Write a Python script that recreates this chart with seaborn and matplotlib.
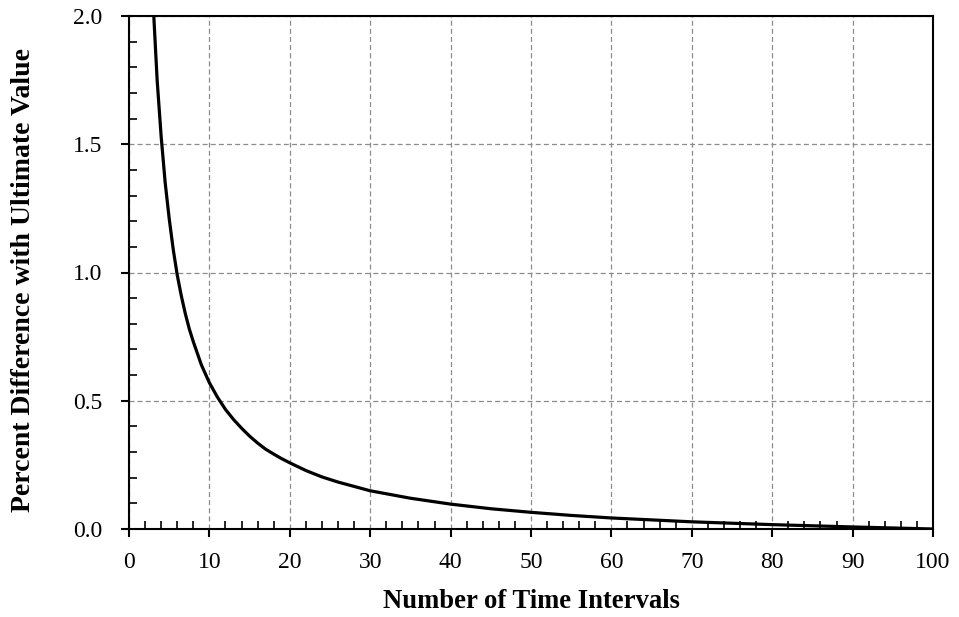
import numpy as np
import pandas as pd
import matplotlib
matplotlib.use("Agg")
import matplotlib.pyplot as plt
import seaborn as sns
from matplotlib.ticker import MultipleLocator, FormatStrFormatter

# Data
intervals = [3, 3.5, 4, 4.5, 5, 5.5, 6, 6.5, 7, 7.5, 8, 9, 10, 11, 12, 13, 14, 15, 16, 17,
             18, 19, 20, 22, 24, 26, 28, 30, 35, 40, 45, 50, 55, 60, 70, 80, 90, 100]
pct_diff = [2.05, 1.75, 1.53, 1.35, 1.21, 1.09, 0.99, 0.91, 0.84, 0.78, 0.73, 0.64,
            0.57, 0.514, 0.466, 0.427, 0.393, 0.362, 0.335, 0.311, 0.292, 0.274, 0.258,
            0.228, 0.203, 0.183, 0.166, 0.149, 0.12, 0.097, 0.079, 0.065, 0.053, 0.043,
            0.028, 0.017, 0.008, 0.0]
x_label = "Number of Time Intervals"
y_label = "Percent Difference with Ultimate Value"

df = pd.DataFrame({"n": intervals, "pct": pct_diff})

sns.set_theme(style="white")
plt.rcParams["font.family"] = ["Liberation Serif", "DejaVu Serif"]
plt.rcParams["text.color"] = "black"
plt.rcParams["axes.labelcolor"] = "black"
plt.rcParams["xtick.color"] = "black"
plt.rcParams["ytick.color"] = "black"

fig = plt.figure(figsize=(9.59, 6.17), dpi=100)
ax = fig.add_axes([129 / 959, 1 - 529 / 617, (933 - 129) / 959, (529 - 16) / 617])

ax.grid(True, which="major", color="#8c8c8c", linestyle=(0, (4, 2.5)), linewidth=0.9)
ax.set_axisbelow(True)

sns.lineplot(data=df, x="n", y="pct", ax=ax, color="black", linewidth=2.3,
             clip_on=True, zorder=3)

ax.set_xlim(0, 100)
ax.set_ylim(0, 2.0)
ax.xaxis.set_major_locator(MultipleLocator(10))
ax.xaxis.set_minor_locator(MultipleLocator(2))
ax.yaxis.set_major_locator(MultipleLocator(0.5))
ax.yaxis.set_minor_locator(MultipleLocator(0.1))
ax.yaxis.set_major_formatter(FormatStrFormatter("%.1f"))

for s in ax.spines.values():
    s.set_color("black")
    s.set_linewidth(1.5)
    s.set_visible(True)

ax.tick_params(axis="both", which="major", direction="out", length=6, width=1.5,
               colors="black", labelcolor="black", labelsize=17)
ax.tick_params(axis="x", which="major", pad=10.5)
ax.tick_params(axis="y", which="major", pad=13.5)
ax.tick_params(axis="both", which="minor", direction="in", length=6, width=1.2,
               colors="black")
ax.tick_params(top=False, right=False, which="both")
ax.tick_params(bottom=True, left=True, which="both")

ax.set_xlabel(x_label, fontsize=19.2, fontweight="bold", color="black")
ax.set_ylabel(y_label, fontsize=20, fontweight="bold", color="black")
ax.xaxis.label.set_va("center")
ax.yaxis.label.set_va("center")
ax.xaxis.set_label_coords(0.5, (529 - 601) / 513)
ax.yaxis.set_label_coords((24 - 129) / 804, (529 - 280) / 513)

fig.savefig("out.png", dpi=100)
